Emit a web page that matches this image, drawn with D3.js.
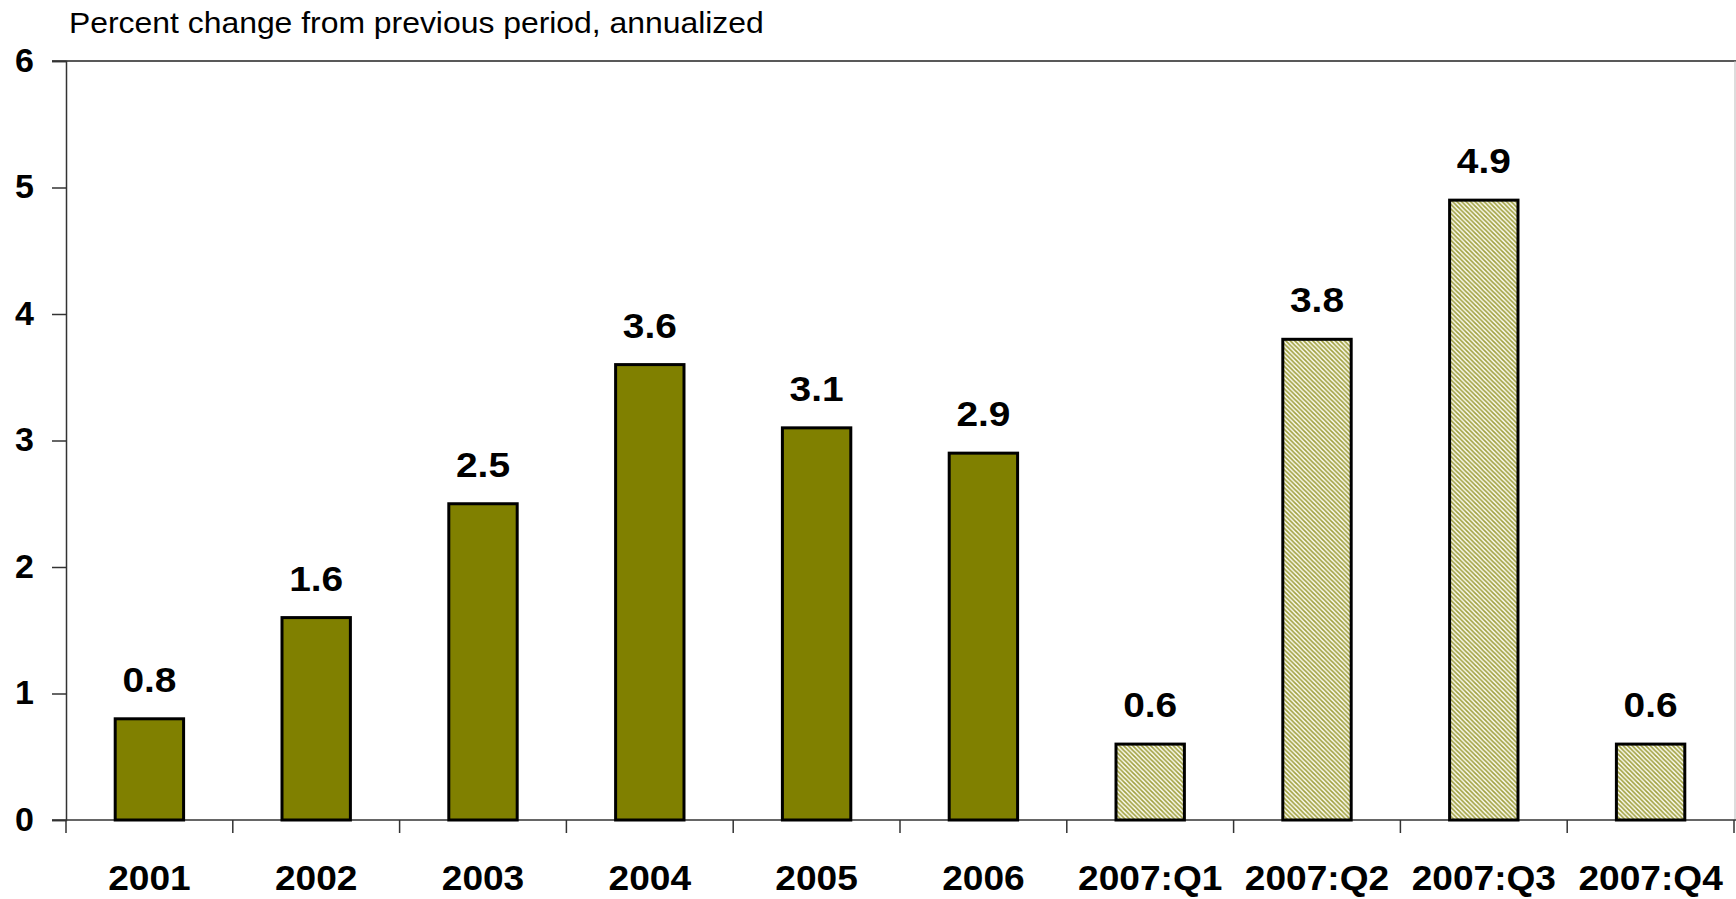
<!DOCTYPE html>
<html>
<head>
<meta charset="utf-8">
<script src="https://cdn.jsdelivr.net/npm/d3@7"></script>
<style>
  html, body { margin: 0; padding: 0; background: #fff; }
  svg { display: block; }
  text { font-family: "Liberation Sans", Arial, sans-serif; }
</style>
</head>
<body>
<svg id="chart" width="1736" height="899"></svg>
<script>
// ---- data ----
const categories = ["2001", "2002", "2003", "2004", "2005", "2006", "2007:Q1", "2007:Q2", "2007:Q3", "2007:Q4"];
const values = [0.8, 1.6, 2.5, 3.6, 3.1, 2.9, 0.6, 3.8, 4.9, 0.6];
const hatched = [false, false, false, false, false, false, true, true, true, true];
const yTicks = [0, 1, 2, 3, 4, 5, 6];
const titleText = "Percent change from previous period, annualized";

// ---- layout ----
const W = 1736, H = 899;
const plotLeft = 66, plotRight = 1734, plotTop = 61, plotBottom = 820;
const svg = d3.select("#chart");

const x = d3.scaleBand().domain(categories).range([plotLeft, plotRight])
  .paddingInner(0.59).paddingOuter(0.295);
const y = d3.scaleLinear().domain([0, 6]).range([plotBottom, plotTop]);

// hatch pattern
const defs = svg.append("defs");
const pat = defs.append("pattern").attr("id", "hatch")
  .attr("patternUnits", "userSpaceOnUse").attr("width", 4.5).attr("height", 4.5);
pat.append("rect").attr("width", 4.5).attr("height", 4.5).attr("fill", "#fdfdf2");
pat.append("path")
  .attr("d", "M0,0 L4.5,4.5 M-1.5,3 L1.5,6 M3,-1.5 L6,1.5")
  .attr("stroke", "#a0a040").attr("stroke-width", 1.7);

// title
svg.append("text")
  .attr("transform", `translate(69,33) scale(1.1,1)`)
  .attr("font-size", 29).attr("fill", "#000")
  .text(titleText);

// top frame line and right border
svg.append("line").attr("x1", 52).attr("x2", W).attr("y1", y(6)).attr("y2", y(6))
  .attr("stroke", "#222").attr("stroke-width", 1.5);
svg.append("line").attr("x1", W - 1).attr("x2", W - 1).attr("y1", y(6)).attr("y2", plotBottom)
  .attr("stroke", "#bbb").attr("stroke-width", 1);

// y axis
const yAxis = d3.axisLeft(y).tickValues(yTicks).tickSize(14).tickFormat(d3.format("d"));
const gy = svg.append("g").attr("transform", `translate(${plotLeft},0)`).call(yAxis);
gy.select(".domain").attr("stroke", "#333").attr("stroke-width", 1.5);
gy.selectAll(".tick line").attr("stroke", "#333").attr("stroke-width", 1.5);
gy.selectAll(".tick text")
  .attr("x", -32).attr("dy", "0.3em")
  .attr("font-size", 34).attr("font-weight", "bold")
  .attr("font-family", "'Liberation Sans', Arial, sans-serif")
  .attr("fill", "#000");

// x axis
const xAxis = d3.axisBottom(x).tickSize(0).tickFormat("");
const gx = svg.append("g").attr("transform", `translate(0,${plotBottom})`).call(xAxis);
gx.select(".domain").remove();
svg.append("line").attr("x1", plotLeft - 14).attr("x2", W).attr("y1", plotBottom).attr("y2", plotBottom)
  .attr("stroke", "#333").attr("stroke-width", 1.5);
// category boundary ticks
const step = x.step();
const boundaries = d3.range(categories.length + 1).map(i => plotLeft + i * step);
svg.append("g").selectAll("line").data(boundaries).join("line")
  .attr("x1", d => d).attr("x2", d => d)
  .attr("y1", plotBottom).attr("y2", plotBottom + 13)
  .attr("stroke", "#333").attr("stroke-width", 1.5);

// category labels
svg.append("g").selectAll("text").data(categories).join("text")
  .attr("transform", d => `translate(${x(d) + x.bandwidth() / 2},890) scale(1.06,1)`)
  .attr("text-anchor", "middle").attr("font-size", 35).attr("font-weight", "bold")
  .attr("fill", "#000").text(d => d);

// bars
const data = categories.map((c, i) => ({ c, v: values[i], h: hatched[i] }));
svg.append("g").selectAll("rect").data(data).join("rect")
  .attr("x", d => x(d.c)).attr("width", x.bandwidth())
  .attr("y", d => y(d.v)).attr("height", d => y(0) - y(d.v))
  .attr("fill", d => d.h ? "url(#hatch)" : "#808000")
  .attr("stroke", "#000").attr("stroke-width", 3);

// value labels
svg.append("g").selectAll("text").data(data).join("text")
  .attr("transform", d => `translate(${x(d.c) + x.bandwidth() / 2},${y(d.v) - 27}) scale(1.08,1)`)
  .attr("text-anchor", "middle").attr("font-size", 36).attr("font-weight", "bold")
  .attr("fill", "#000").text(d => d3.format(".1f")(d.v));
</script>
</body>
</html>
